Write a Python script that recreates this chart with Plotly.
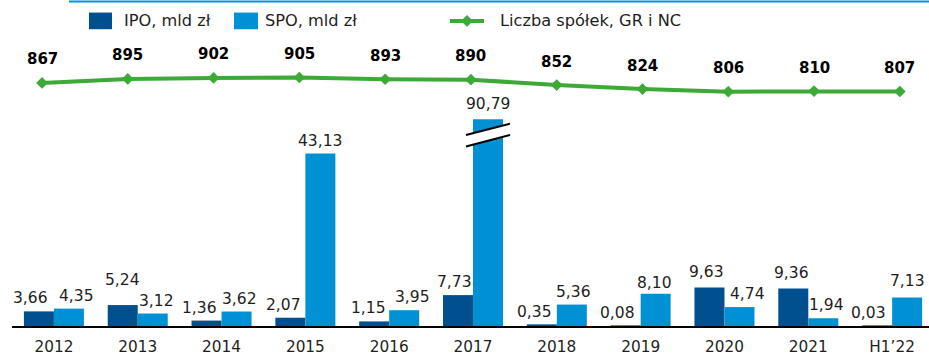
import plotly.graph_objects as go

# ---- data ----
categories = ["2012", "2013", "2014", "2015", "2016", "2017",
              "2018", "2019", "2020", "2021", "H1’22"]
ipo = [3.66, 5.24, 1.36, 2.07, 1.15, 7.73, 0.35, 0.08, 9.63, 9.36, 0.03]
spo = [4.35, 3.12, 3.62, 43.13, 3.95, 90.79, 5.36, 8.10, 4.74, 1.94, 7.13]
companies = [867, 895, 902, 905, 893, 890, 852, 824, 806, 810, 807]

# ---- styling ----
W, H = 929, 356
ML, MR, MT, MB = 12, 0, 40, 24
PW, PH = W - ML - MR, H - MT - MB
IPO_COLOR = "#00508F"
SPO_COLOR = "#0091D4"
GREEN = "#3DAA37"
TEXT = "#1E1E1E"
FONT = "DejaVu Sans"

BAR_TOP = 51.7            # bar axis ceiling; taller bars are cut with a break mark
BAR_DOMAIN = 211 / PH     # bars occupy the lower part of the plot
X_RANGE = [-0.5, 10.44]
LINE_X_RANGE = [-0.35, 10.34]
LINE_Y_RANGE = [-838.6, 1168.3]
BAR_W = 0.358
BARGAP = 1 - 2 * BAR_W

# small horizontal nudges of the value labels (px), and extra lift (px)
ipo_dx = [-8.5, 0, -7, -6.5, -6, -4, -7, -8, -3, -2, -8.5]
spo_dx = [8, 4, 3, 0, 8.5, 0, 2, -1, 8, 3.5, 0]
ipo_dy = [0, 12, 0, 0, 0, 0, 0, 0, 2.5, 2.5, 0]
spo_dy = [0, 0, 0, 0, 0, 2, 0, -2, 0, 0, 3]

idx = list(range(len(categories)))


def fmt(v):
    return f"{v:.2f}".replace(".", ",")


def px_x(p):
    return (p - ML) / PW


def px_y(p):
    return (MT + PH - p) / PH


fig = go.Figure()
fig.add_trace(go.Bar(x=idx, y=ipo, name="IPO, mld zł", marker_color=IPO_COLOR,
                     marker_line_width=0, xaxis="x", yaxis="y"))
fig.add_trace(go.Bar(x=idx, y=spo, name="SPO, mld zł", marker_color=SPO_COLOR,
                     marker_line_width=0, xaxis="x", yaxis="y"))
fig.add_trace(go.Scatter(x=idx, y=companies, name="Liczba spółek, GR i NC",
                         mode="lines+markers", xaxis="x2", yaxis="y2",
                         line=dict(color=GREEN, width=4),
                         marker=dict(symbol="diamond", size=9, color=GREEN),
                         cliponaxis=False))

annotations = []
# bar value labels
for i in idx:
    for vals, sign, dx, dy in ((ipo, -1, ipo_dx, ipo_dy), (spo, 1, spo_dx, spo_dy)):
        v = vals[i]
        annotations.append(dict(
            x=i + sign * BAR_W / 2, y=min(v, BAR_TOP), xref="x", yref="y",
            text=fmt(v), showarrow=False, xanchor="center", yanchor="middle",
            xshift=dx[i], yshift=13 + dy[i],
            font=dict(family=FONT, size=15.5, color=TEXT)))
# company count labels
for i in idx:
    annotations.append(dict(
        x=i, y=companies[i], xref="x2", yref="y2", text=str(companies[i]),
        showarrow=False, xanchor="center", yanchor="middle", yshift=23.5,
        font=dict(family=FONT, size=15, color="#000000", weight="bold")))

shapes = []
# break mark on bars taller than the axis ceiling
px_per_x = PW / (X_RANGE[1] - X_RANGE[0])
px_per_y = BAR_DOMAIN * PH / BAR_TOP
for i in idx:
    if spo[i] > BAR_TOP:
        xc = i + BAR_W / 2
        ext = 7 / px_per_x
        x0, x1 = xc - BAR_W / 2 - ext, xc + BAR_W / 2 + ext
        yc = BAR_TOP - 16 / px_per_y
        rise = 11.6 / px_per_y
        gap = 11.7 / px_per_y
        lo0, lo1 = yc - gap / 2 - rise / 2, yc - gap / 2 + rise / 2
        hi0, hi1 = yc + gap / 2 - rise / 2, yc + gap / 2 + rise / 2
        shapes.append(dict(type="path", xref="x", yref="y", layer="above",
                           path=f"M{x0},{lo0} L{x1},{lo1} L{x1},{hi1} L{x0},{hi0} Z",
                           fillcolor="white", line=dict(width=0)))
        for a, b in ((lo0, lo1), (hi0, hi1)):
            shapes.append(dict(type="line", xref="x", yref="y", layer="above",
                               x0=x0, y0=a, x1=x1, y1=b,
                               line=dict(color="black", width=2)))

# top rule
shapes.append(dict(type="line", xref="paper", yref="paper",
                   x0=px_x(69), x1=px_x(929), y0=px_y(0.8), y1=px_y(0.8),
                   line=dict(color="#0096D6", width=2)))

# legend
LEG_Y = 20.5
LEG_SIZE = 16.2
for (r0, r1, tx, color, label) in ((89, 112, 122, IPO_COLOR, "IPO, mld zł"),
                                   (234, 258, 263, SPO_COLOR, "SPO, mld zł")):
    shapes.append(dict(type="rect", xref="paper", yref="paper",
                       x0=px_x(r0), x1=px_x(r1), y0=px_y(12), y1=px_y(29),
                       fillcolor=color, line=dict(width=0)))
    annotations.append(dict(x=px_x(tx), y=px_y(LEG_Y), xref="paper", yref="paper",
                            text=label, showarrow=False, xanchor="left",
                            yanchor="middle",
                            font=dict(family=FONT, size=LEG_SIZE, color=TEXT)))
shapes.append(dict(type="line", xref="paper", yref="paper",
                   x0=px_x(450), x1=px_x(484), y0=px_y(LEG_Y), y1=px_y(LEG_Y),
                   line=dict(color=GREEN, width=4)))
dcx, dcy, dr = 467, LEG_Y, 6
shapes.append(dict(type="path", xref="paper", yref="paper",
                   path=(f"M{px_x(dcx - dr)},{px_y(dcy)} L{px_x(dcx)},{px_y(dcy - dr)} "
                         f"L{px_x(dcx + dr)},{px_y(dcy)} L{px_x(dcx)},{px_y(dcy + dr)} Z"),
                   fillcolor=GREEN, line=dict(width=0)))
annotations.append(dict(x=px_x(498), y=px_y(LEG_Y), xref="paper", yref="paper",
                        text="Liczba spółek, GR i NC", showarrow=False, xanchor="left",
                        yanchor="middle",
                        font=dict(family=FONT, size=LEG_SIZE, color=TEXT)))

fig.update_layout(
    width=W, height=H, margin=dict(l=ML, r=MR, t=MT, b=MB),
    paper_bgcolor="white", plot_bgcolor="rgba(0,0,0,0)",
    barmode="group", bargap=BARGAP, bargroupgap=0, showlegend=False,
    font=dict(family=FONT, color=TEXT),
    xaxis=dict(domain=[0, 1], range=X_RANGE, tickmode="array", tickvals=idx,
               ticktext=categories, showline=True, linecolor="black", linewidth=2,
               ticks="", showgrid=False, zeroline=False, anchor="y",
               tickfont=dict(family=FONT, size=15.3, color=TEXT),
               ticklabelstandoff=6),
    yaxis=dict(domain=[0, BAR_DOMAIN], range=[0, BAR_TOP], visible=False,
               anchor="x"),
    xaxis2=dict(domain=[0, 1], range=LINE_X_RANGE, visible=False, anchor="y2"),
    yaxis2=dict(domain=[0, 1], range=LINE_Y_RANGE, visible=False, anchor="x2"),
    annotations=annotations, shapes=shapes,
)

fig.write_html("out.html")
